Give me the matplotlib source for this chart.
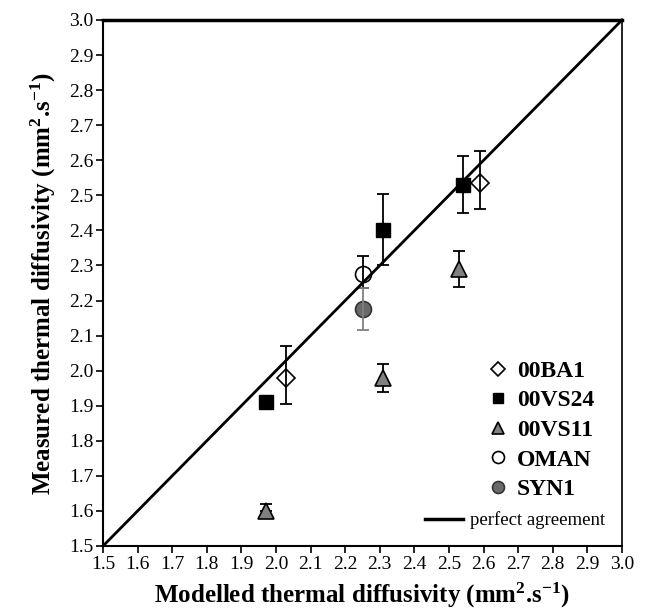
import numpy as np
import matplotlib
matplotlib.use("Agg")
import matplotlib.pyplot as plt
from matplotlib.lines import Line2D

plt.rcParams['font.family'] = ['Liberation Serif', 'DejaVu Serif']
plt.rcParams['mathtext.fontset'] = 'custom'
plt.rcParams['mathtext.bf'] = 'Liberation Serif:bold'
plt.rcParams['mathtext.rm'] = 'Liberation Serif:bold'
plt.rcParams['mathtext.default'] = 'bf'

# data: modelled (x) vs measured (y), with lower/upper errors
ba1_x = [2.03, 2.59]
ba1_y = [1.98, 2.535]
ba1_lo = [0.075, 0.075]
ba1_hi = [0.09, 0.09]

vs24_x = [1.97, 2.31, 2.54]
vs24_y = [1.91, 2.40, 2.53]
vs24_lo = [0.01, 0.10, 0.08]
vs24_hi = [0.01, 0.104, 0.083]

vs11_x = [1.97, 2.31, 2.53]
vs11_y = [1.60, 1.98, 2.29]
vs11_lo = [0.0, 0.04, 0.05]
vs11_hi = [0.02, 0.04, 0.05]

oman_x = [2.25]
oman_y = [2.276]
oman_lo = [0.04]
oman_hi = [0.05]

syn1_x = [2.25]
syn1_y = [2.175]
syn1_lo = [0.06]
syn1_hi = [0.06]

ticks = np.round(np.arange(1.5, 3.01, 0.1), 1)

fig = plt.figure(figsize=(6.48, 6.12), dpi=100)
ax = fig.add_axes([103 / 648, 66 / 612, 519 / 648, 526 / 612])

series = [
    (ba1_x, ba1_y, ba1_lo, ba1_hi, dict(marker='D', ms=9.2, mfc='white', mec='black', mew=1.2), 'black', 3),
    (vs24_x, vs24_y, vs24_lo, vs24_hi, dict(marker='s', ms=10, mfc='black', mec='black', mew=1.0), 'black', 3),
    (vs11_x, vs11_y, vs11_lo, vs11_hi, dict(marker='^', ms=12, mfc='#808080', mec='black', mew=1.2), 'black', 1.5),
    (oman_x, oman_y, oman_lo, oman_hi, dict(marker='o', ms=11.5, mfc='white', mec='black', mew=1.2), 'black', 3),
    (syn1_x, syn1_y, syn1_lo, syn1_hi, dict(marker='o', ms=11.5, mfc='#6a6a6a', mec='#333333', mew=1.2), '#808080', 3),
]
for x, y, lo, hi, style, ecol, ez in series:
    ax.plot(x, y, ls='none', zorder=2, **style)
    ax.errorbar(x, y, yerr=[lo, hi], fmt='none', ecolor=ecol, elinewidth=1.3,
                capsize=4, capthick=1.3, zorder=ez)

ax.plot([1.5, 3.0], [1.5, 3.0], color='black', lw=2, zorder=4, clip_on=False)

ax.set_xlim(1.5, 3.0)
ax.set_ylim(1.5, 3.0)
ax.set_xticks(ticks)
ax.set_yticks(ticks)
ax.set_xticklabels(['%.1f' % t for t in ticks])
ax.set_yticklabels(['%.1f' % t for t in ticks])
ax.tick_params(direction='out', length=5, width=1.2, labelsize=14, pad=2,
               top=False, right=False)

ax.spines['top'].set_linewidth(2.5)
ax.spines['right'].set_linewidth(1.2)
ax.spines['left'].set_linewidth(1.5)
ax.spines['bottom'].set_linewidth(1.5)

ax.set_xlabel(r'Modelled thermal diffusivity (mm$^{2}$.s$^{-1}$)',
              fontsize=18, fontweight='bold', labelpad=6)
ax.set_ylabel(r'Measured thermal diffusivity (mm$^{2}$.s$^{-1}$)',
              fontsize=18, fontweight='bold', labelpad=8)

names = ['00BA1', '00VS24', '00VS11', 'OMAN', 'SYN1']
handles = [Line2D([], [], ls='none', **s[4]) for s in series]
leg1 = ax.legend(handles, names, loc='center left', bbox_to_anchor=(0.697, 0.22),
                 frameon=False, markerscale=0.75, handlelength=1.0, handletextpad=0.3,
                 labelspacing=0.34, prop={'family': 'Liberation Serif', 'weight': 'bold', 'size': 17})
ax.add_artist(leg1)

line_h = [Line2D([], [], color='black', lw=2.5)]
ax.legend(line_h, ['perfect agreement'], loc='lower right', bbox_to_anchor=(1.0, 0.0),
          frameon=False, handlelength=2.0, handletextpad=0.4,
          prop={'family': 'Liberation Serif', 'size': 13.5})

fig.savefig('out.png', dpi=100)
